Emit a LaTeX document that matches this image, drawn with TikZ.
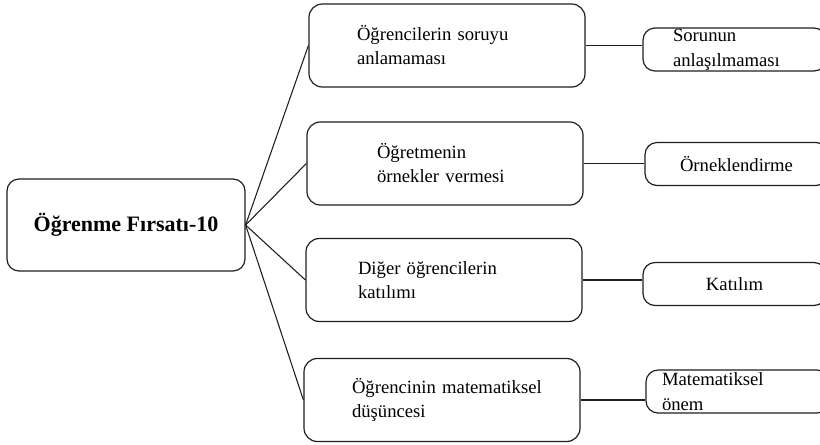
\documentclass[tikz,border=0pt]{standalone}
\usepackage{fontspec}
\setmainfont{Liberation Serif}
\usetikzlibrary{positioning, calc}
\definecolor{lineDark}{HTML}{1E1E1E}
\tikzset{
  link/.style={lineDark, line width=0.8pt},
  boxMain/.style={rectangle, rounded corners=9pt, draw=lineDark, line width=0.9pt,
                  minimum width=178.5pt, minimum height=69pt, inner sep=0pt,
                  font=\fontsize{16.5}{20}\selectfont\bfseries},
  boxMid/.style={rectangle, rounded corners=10pt, draw=lineDark, line width=0.9pt,
                 minimum width=207pt, minimum height=62.25pt, inner sep=0pt,
                 align=left, text width=#1, font=\fontsize{14}{18}\selectfont},
  boxEnd/.style={rectangle, rounded corners=9pt, draw=lineDark, line width=0.9pt,
                 minimum width=137.25pt, minimum height=32.25pt, inner sep=0pt,
                 align=left, text width=#1, font=\fontsize{14}{18.5}\selectfont},
}
\begin{document}
\begin{tikzpicture}[x=0.75pt, y=-0.75pt]
  \useasboundingbox (0,0) rectangle (820,444);
  \clip (0,0) rectangle (820,444);
  % centre
  \node[boxMain] (main) at (126,225) {Öğrenme Fırsatı-10};
  % middle column
  \node[boxMid=135pt] (m1) at (447,45.5) {Öğrencilerin soruyu\\anlamaması};
  \node[boxMid=102pt] (m2) at (445,163.5) {Öğretmenin\\örnekler vermesi};
  \node[boxMid=129pt] (m3) at (444,280) {Diğer öğrencilerin\\katılımı};
  \node[boxMid=135pt] (m4) at (442,400) {\mbox{Öğrencinin matematiksel}\\düşüncesi};
  % right column
  \node[boxEnd=92.25pt] (r1) at (734.5,49.5) {Sorunun\\anlaşılmaması};
  \node[boxEnd=120pt, align=center] (r2) at (736.5,164) {Örneklendirme};
  \node[boxEnd=120pt, align=center] (r3) at (734.5,284) {Katılım};
  \node[boxEnd=113.25pt] (r4) at (737.5,391.5) {Matematiksel\\önem};
  % links
  \foreach \i in {1,...,4} \draw[link] (main.east) -- (m\i.west);
  \foreach \i in {1,...,4} \draw[link] (m\i.east) -- (m\i.east -| r\i.west);
\end{tikzpicture}
\end{document}
